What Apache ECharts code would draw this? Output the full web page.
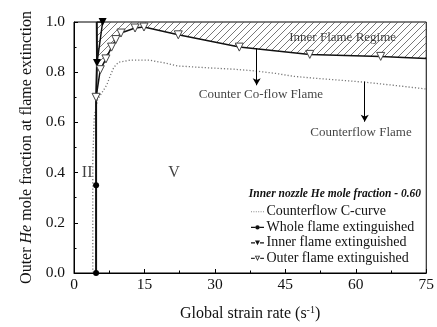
<!DOCTYPE html>
<html><head><meta charset="utf-8">
<script src="https://cdn.jsdelivr.net/npm/echarts@6/dist/echarts.min.js"></script>
<style>html,body{margin:0;padding:0;background:#fff}#c{width:437px;height:327px}</style>
</head><body><div id="c"></div>
<script>
const xTicks = [0, 15, 30, 45, 60, 75];
const yTicks = [0, 0.2, 0.4, 0.6, 0.8, 1.0];
const cCurve = [[4.0,0.0],[4.0,0.45],[4.3,0.62],[5.0,0.69],[6.0,0.72],[7.0,0.75],[7.8,0.79],[8.5,0.82],[9.5,0.84],[12,0.848],[16,0.848],[19,0.838],[22,0.825],[28,0.818],[34,0.812],[38,0.806],[43,0.795],[47,0.783],[52,0.775],[58,0.766],[62,0.76],[68,0.748],[75,0.733]];
const wholeFlame = [[4.7,0.0],[4.7,0.35]];
const innerFlame = [[4.9,0.837],[6.1,1.0]];
const innerTop = [4.85,1.0];
const outerFlame = [[4.7,0.70],[5.6,0.81],[6.8,0.853],[8.0,0.90],[8.9,0.93],[10.0,0.956],[13.0,0.976],[14.9,0.98],[22.2,0.949],[35.2,0.90],[50.2,0.871],[65.3,0.863]];
const outerEnd = [75,0.855];
const annotTexts = ['Inner Flame Regime','Counter Co-flow Flame','Counterflow Flame','II','V'];
const annotPos = [[57.2,0.938],[39.8,0.71],[61.1,0.559],[2.8,0.40],[21.3,0.40]];
const annotSizes = [13, 13, 13, 16, 16];
const arrowLines = [[[38.9,0.895],[38.9,0.748]],[[61.9,0.763],[61.9,0.603]]];
const legendNames = ['Counterflow C-curve','Whole flame extinguished','Inner flame extinguished','Outer flame extinguished'];
const legendTitle = 'Inner nozzle He mole fraction - 0.60';

const FONT = 'Liberation Serif';
// hatch pattern
const pc = document.createElement('canvas');
pc.width = 7; pc.height = 7;
const g = pc.getContext('2d');
g.strokeStyle = '#555'; g.lineWidth = 0.8;
g.beginPath();
g.moveTo(0,7); g.lineTo(7,0);
g.moveTo(-1,1); g.lineTo(1,-1);
g.moveTo(6,8); g.lineTo(8,6);
g.stroke();

const legendIcons = [
  'path://M0,3h1v1h-1zM2.4,3h1v1h-1zM4.8,3h1v1h-1zM7.2,3h1v1h-1zM9.6,3h1v1h-1zM12,3h1v1h-1zM0,0h0.01v0.01h-0.01zM13,7h0.01v0.01h-0.01z',
  'path://M0,3h4.3v1.2h-4.3zM8.7,3h4.3v1.2h-4.3zM4.3,3.6a2.2,2.2 0 1,0 4.4,0a2.2,2.2 0 1,0 -4.4,0zM0,0h0.01v0.01h-0.01zM13,7h0.01v0.01h-0.01z',
  'path://M0,3h4v1.2h-4zM9,3h4v1.2h-4zM4,1.2L9,1.2L6.5,6zM0,0h0.01v0.01h-0.01zM13,7h0.01v0.01h-0.01z',
  'path://M0,3h3.8v1.2h-3.8zM9.2,3h3.8v1.2h-3.8zM3.8,1L9.2,1L6.5,6.2zM5.3,1.8L6.5,4.4L7.7,1.8zM0,0h0.01v0.01h-0.01zM13,7h0.01v0.01h-0.01z'
];
const legendColors = ['#888', '#111', '#111', '#333'];

const hatchData = [innerFlame[0]].concat(outerFlame.filter(p => p[0] >= 6.5), [outerEnd]);
const noSym = p => ({value: p, symbol: 'none'});
const wholeData = wholeFlame.map(p => p).concat([noSym(outerFlame[0]), noSym(innerFlame[0]), noSym(innerTop)]);
const outerData = outerFlame.map(p => p).concat([noSym(outerEnd)]);

const chart = echarts.init(document.getElementById('c'), null, {renderer: 'canvas'});
chart.setOption({
  animation: false,
  backgroundColor: '#fff',
  textStyle: {fontFamily: FONT},
  grid: {left: 74, right: 10, top: 22, bottom: 53, show: true, borderColor: '#000', borderWidth: 1},
  xAxis: {
    type: 'value', min: xTicks[0], max: xTicks[xTicks.length-1], interval: 15,
    axisLine: {lineStyle: {color: '#000', width: 1}},
    axisTick: {inside: true, length: 4, lineStyle: {color: '#000'}},
    minorTick: {show: true, splitNumber: 2, length: 2.5, lineStyle: {color: '#000'}},
    splitLine: {show: false},
    axisLabel: {color: '#111', fontSize: 15.5, fontFamily: FONT, margin: 4},
    name: 'Global strain rate (s{sup|-1})', nameLocation: 'middle', nameGap: 32,
    nameTextStyle: {color: '#111', fontSize: 16, fontFamily: FONT, rich: {sup: {fontSize: 10, verticalAlign: 'top', padding: [0,0,8,0], fontFamily: FONT, color: '#111'}}}
  },
  yAxis: {
    type: 'value', min: yTicks[0], max: yTicks[yTicks.length-1], interval: 0.2,
    axisLine: {show: true, lineStyle: {color: '#000', width: 1}},
    axisTick: {show: true, inside: true, length: 4, lineStyle: {color: '#000'}},
    minorTick: {show: true, splitNumber: 2, length: 2.5, lineStyle: {color: '#000'}},
    splitLine: {show: false},
    axisLabel: {color: '#111', fontSize: 15.5, fontFamily: FONT, margin: 9, formatter: v => v.toFixed(1)},
    name: 'Outer {i|He} mole fraction at flame extinction', nameLocation: 'middle', nameGap: 38,
    nameTextStyle: {color: '#111', fontSize: 16, fontFamily: FONT, rich: {i: {fontStyle: 'italic', fontSize: 16, fontFamily: FONT, color: '#111'}}}
  },
  legend: {
    data: legendNames.map((n, i) => ({name: n, icon: legendIcons[i], itemStyle: {color: legendColors[i], borderWidth: 0}})),
    orient: 'vertical', left: 251, top: 204.5, itemWidth: 13, itemHeight: 7, itemGap: 1,
    textStyle: {fontFamily: FONT, fontSize: 14, lineHeight: 14.5, color: '#111', padding: [0,0,0,-2.5]},
    padding: 0, selectedMode: false
  },
  graphic: [{
    type: 'text', right: 16, top: 188.5,
    style: {text: legendTitle, font: 'italic bold 11.5px "Liberation Serif"', fill: '#111'}
  }],
  series: [
    {
      name: 'hatch', type: 'line', data: hatchData, symbol: 'none', silent: true, z: 1,
      lineStyle: {width: 0, opacity: 0},
      areaStyle: {origin: 'end', color: {image: pc, repeat: 'repeat'}, opacity: 1}
    },
    {
      name: legendNames[0], type: 'line', data: cCurve, symbol: 'none', z: 2,
      lineStyle: {color: '#777', width: 1.3, type: [1.2, 2]},
      itemStyle: {color: '#777'}
    },
    {
      name: legendNames[1], type: 'line', data: wholeData, symbol: 'circle', symbolSize: 6, z: 3,
      lineStyle: {color: '#111', width: 2}, itemStyle: {color: '#000'}
    },
    {
      name: legendNames[2], type: 'line', data: innerFlame.map(p => p).concat([noSym(innerTop)]), symbol: 'triangle', symbolRotate: 180, symbolSize: 8, z: 4,
      lineStyle: {color: '#111', width: 1.5}, itemStyle: {color: '#000'}
    },
    {
      name: legendNames[3], type: 'line', data: outerData, symbol: 'triangle', symbolRotate: 180, symbolSize: 8, z: 4,
      lineStyle: {color: '#111', width: 1.5}, itemStyle: {color: '#fff', borderColor: '#444', borderWidth: 1},
      markLine: {
        silent: true, symbol: ['none', 'arrow'], symbolSize: [6, 7],
        lineStyle: {color: '#000', width: 1, type: 'solid'}, label: {show: false},
        data: arrowLines.map(l => [{coord: l[0]}, {coord: l[1]}])
      }
    },
    {
      name: 'annot', type: 'scatter', symbolSize: 0, silent: true, z: 5,
      data: annotPos.map((p, i) => ({value: p, name: annotTexts[i], label: {fontSize: annotSizes[i]}})),
      label: {
        show: true, position: 'inside', formatter: p => p.name,
        fontFamily: FONT, color: '#111', fontSize: 13
      }
    }
  ]
});
</script></body></html>
